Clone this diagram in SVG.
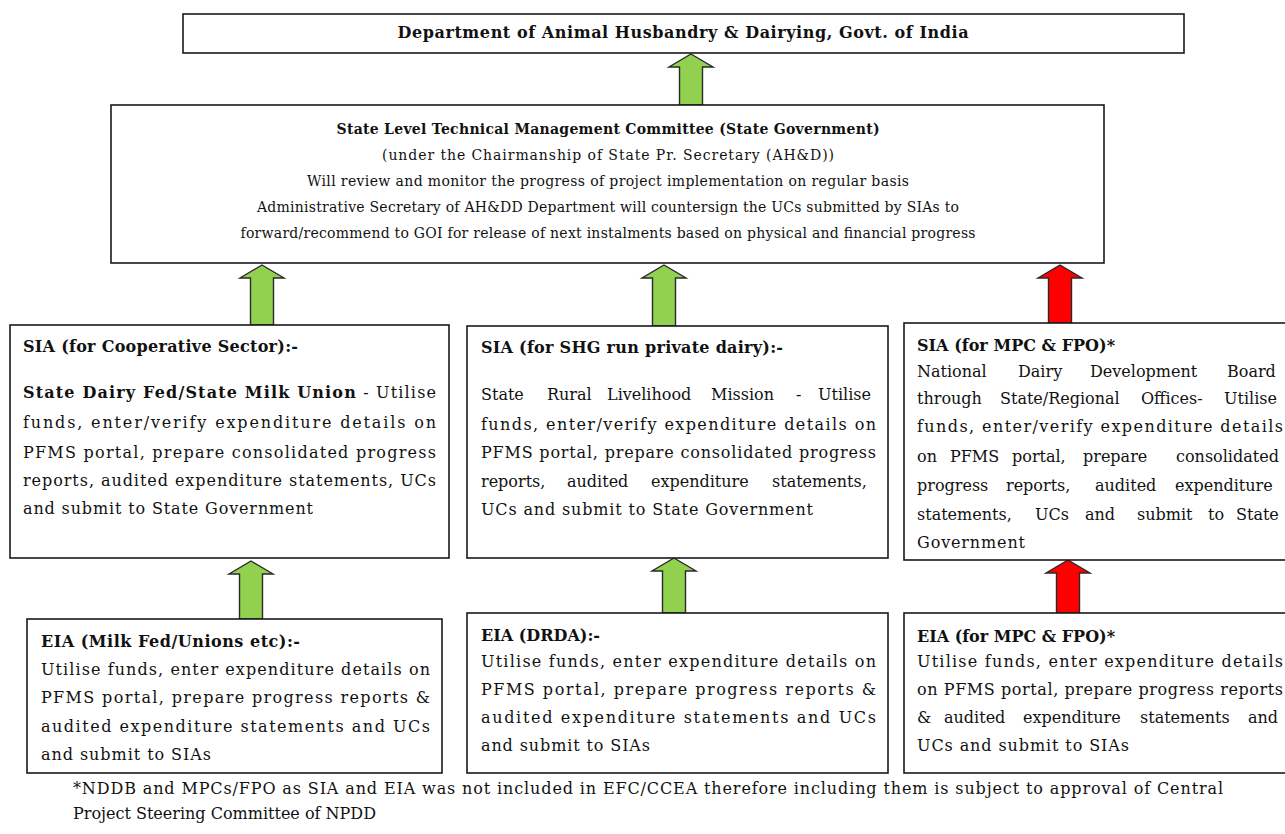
<svg xmlns="http://www.w3.org/2000/svg" width="1285" height="834" viewBox="0 0 1285 834">
<style>
.box{fill:#fff;stroke:#1a1a1a;stroke-width:1.6}
.t{font-family:"DejaVu Serif","Liberation Serif",serif;fill:#111;font-size:16px}
.m{font-size:14px}
.b{font-weight:bold}
.c{text-anchor:middle}
.ag{fill:#92d050;stroke:#2a2a2a;stroke-width:1.4}
.ar{fill:#ff0000;stroke:#2a2a2a;stroke-width:1.4}
</style>
<rect width="1285" height="834" fill="#fff"/>

<g id="connectors">
  <polygon class="ag" points="691,54 713,67 702.5,67 702.5,105 679.5,105 679.5,67 669,67"/>
  <polygon class="ag" points="262,265 284,278 273.5,278 273.5,325 250.5,325 250.5,278 240,278"/>
  <polygon class="ag" points="664,265 686,278 675.5,278 675.5,326 652.5,326 652.5,278 642,278"/>
  <polygon class="ar" points="1060,265 1082,278 1071.5,278 1071.5,323 1048.5,323 1048.5,278 1038,278"/>
  <polygon class="ag" points="251,561 273,574 262.5,574 262.5,619 239.5,619 239.5,574 229,574"/>
  <polygon class="ag" points="674,558 696,571 685.5,571 685.5,613 662.5,613 662.5,571 652,571"/>
  <polygon class="ar" points="1068,560 1090,573 1079.5,573 1079.5,613 1056.5,613 1056.5,573 1046,573"/>
</g>

<g id="dahd">
  <rect class="box" x="183" y="14" width="1001" height="39"/>
  <text class="t b c" x="683" y="38" textLength="571" lengthAdjust="spacing">Department of Animal Husbandry &amp; Dairying, Govt. of India</text>
</g>

<g id="sltmc">
  <rect class="box" x="111" y="105" width="993" height="158"/>
  <text class="t m b c" x="608" y="134" textLength="543" lengthAdjust="spacing">State Level Technical Management Committee (State Government)</text>
  <text class="t m c" x="608" y="160" textLength="452" lengthAdjust="spacing">(under the Chairmanship of State Pr. Secretary (AH&amp;D))</text>
  <text class="t m c" x="608" y="186" textLength="602" lengthAdjust="spacing">Will review and monitor the progress of project implementation on regular basis</text>
  <text class="t m c" x="608" y="212" textLength="702" lengthAdjust="spacing">Administrative Secretary of AH&amp;DD Department will countersign the UCs submitted by SIAs to</text>
  <text class="t m c" x="608" y="238" textLength="735" lengthAdjust="spacing">forward/recommend to GOI for release of next instalments based on physical and financial progress</text>
</g>

<g id="sia-coop">
  <rect class="box" x="10" y="325" width="439" height="233"/>
  <text class="t b" x="23" y="352" textLength="275" lengthAdjust="spacing">SIA (for Cooperative Sector):-</text>
  <text class="t" x="23" y="398" textLength="413" lengthAdjust="spacing"><tspan class="b">State Dairy Fed/State Milk Union</tspan> - Utilise</text>
  <text class="t" x="23" y="428" textLength="413" lengthAdjust="spacing">funds, enter/verify expenditure details on</text>
  <text class="t" x="23" y="458" textLength="413" lengthAdjust="spacing">PFMS portal, prepare consolidated progress</text>
  <text class="t" x="23" y="486" textLength="413" lengthAdjust="spacing">reports, audited expenditure statements, UCs</text>
  <text class="t" x="23" y="514" textLength="290" lengthAdjust="spacing">and submit to State Government</text>
</g>

<g id="sia-shg">
  <rect class="box" x="467" y="326" width="421" height="232"/>
  <text class="t b" x="481" y="353" textLength="302" lengthAdjust="spacing">SIA (for SHG run private dairy):-</text>
  <text class="t" x="481" y="400"><tspan x="481">State</tspan><tspan x="547">Rural</tspan><tspan x="607">Livelihood</tspan><tspan x="711">Mission</tspan><tspan x="796">-</tspan><tspan x="818">Utilise</tspan></text>
  <text class="t" x="481" y="430" textLength="395" lengthAdjust="spacing">funds, enter/verify expenditure details on</text>
  <text class="t" x="481" y="458" textLength="395" lengthAdjust="spacing">PFMS portal, prepare consolidated progress</text>
  <text class="t" x="481" y="487"><tspan x="481">reports,</tspan><tspan x="567">audited</tspan><tspan x="651">expenditure</tspan><tspan x="772">statements,</tspan></text>
  <text class="t" x="481" y="515" textLength="332" lengthAdjust="spacing">UCs and submit to State Government</text>
</g>

<g id="sia-mpc">
  <rect class="box" x="904" y="323" width="400" height="237"/>
  <text class="t b" x="917" y="351" textLength="198" lengthAdjust="spacing">SIA (for MPC &amp; FPO)*</text>
  <text class="t" x="917" y="377"><tspan x="917">National</tspan><tspan x="1018">Dairy</tspan><tspan x="1090">Development</tspan><tspan x="1227">Board</tspan></text>
  <text class="t" x="917" y="404"><tspan x="917">through</tspan><tspan x="1000">State/Regional</tspan><tspan x="1141">Offices-</tspan><tspan x="1224">Utilise</tspan></text>
  <text class="t" x="917" y="432" textLength="366" lengthAdjust="spacing">funds, enter/verify expenditure details</text>
  <text class="t" x="917" y="462"><tspan x="917">on</tspan><tspan x="950">PFMS</tspan><tspan x="1012">portal,</tspan><tspan x="1083">prepare</tspan><tspan x="1176">consolidated</tspan></text>
  <text class="t" x="917" y="491"><tspan x="917">progress</tspan><tspan x="1006">reports,</tspan><tspan x="1095">audited</tspan><tspan x="1175">expenditure</tspan></text>
  <text class="t" x="917" y="520"><tspan x="917">statements,</tspan><tspan x="1035">UCs</tspan><tspan x="1085">and</tspan><tspan x="1137">submit</tspan><tspan x="1208">to</tspan><tspan x="1236">State</tspan></text>
  <text class="t" x="917" y="548" textLength="108" lengthAdjust="spacing">Government</text>
</g>

<g id="eia-milk">
  <rect class="box" x="27" y="619" width="415" height="154"/>
  <text class="t b" x="41" y="647" textLength="259" lengthAdjust="spacing">EIA (Milk Fed/Unions etc):-</text>
  <text class="t" x="41" y="675" textLength="389" lengthAdjust="spacing">Utilise funds, enter expenditure details on</text>
  <text class="t" x="41" y="703" textLength="389" lengthAdjust="spacing">PFMS portal, prepare progress reports &amp;</text>
  <text class="t" x="41" y="732" textLength="389" lengthAdjust="spacing">audited expenditure statements and UCs</text>
  <text class="t" x="41" y="760" textLength="170" lengthAdjust="spacing">and submit to SIAs</text>
</g>

<g id="eia-drda">
  <rect class="box" x="467" y="613" width="421" height="160"/>
  <text class="t b" x="481" y="641" textLength="119" lengthAdjust="spacing">EIA (DRDA):-</text>
  <text class="t" x="481" y="667" textLength="395" lengthAdjust="spacing">Utilise funds, enter expenditure details on</text>
  <text class="t" x="481" y="695" textLength="395" lengthAdjust="spacing">PFMS portal, prepare progress reports &amp;</text>
  <text class="t" x="481" y="723" textLength="395" lengthAdjust="spacing">audited expenditure statements and UCs</text>
  <text class="t" x="481" y="751" textLength="169" lengthAdjust="spacing">and submit to SIAs</text>
</g>

<g id="eia-mpc">
  <rect class="box" x="904" y="613" width="400" height="160"/>
  <text class="t b" x="917" y="642" textLength="198" lengthAdjust="spacing">EIA (for MPC &amp; FPO)*</text>
  <text class="t" x="917" y="667" textLength="366" lengthAdjust="spacing">Utilise funds, enter expenditure details</text>
  <text class="t" x="917" y="695" textLength="366" lengthAdjust="spacing">on PFMS portal, prepare progress reports</text>
  <text class="t" x="917" y="723"><tspan x="917">&amp;</tspan><tspan x="944">audited</tspan><tspan x="1023">expenditure</tspan><tspan x="1140">statements</tspan><tspan x="1248">and</tspan></text>
  <text class="t" x="917" y="751" textLength="212" lengthAdjust="spacing">UCs and submit to SIAs</text>
</g>

<g id="footnote">
  <text class="t" x="73" y="794" textLength="1150" lengthAdjust="spacing">*NDDB and MPCs/FPO as SIA and EIA was not included in EFC/CCEA therefore including them is subject to approval of Central</text>
  <text class="t" x="73" y="819">Project Steering Committee of NPDD</text>
</g>
</svg>
